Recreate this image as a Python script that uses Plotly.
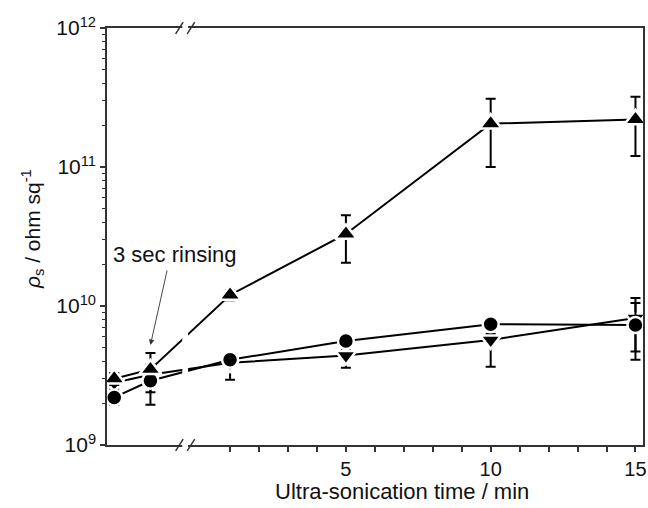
import plotly.graph_objects as go

# ---------------- data ----------------
pre_labels = ["initial", "3 sec rinsing"]          # before ultra-sonication
sonication_min = [1, 5, 10, 15]                     # ultra-sonication time / min

up_vals = [3.0e9, 3.5e9, 1.2e10, 3.3e10, 2.05e11, 2.2e11]
up_err_plus = [0.3e9, 1.1e9, 0.1e10, 1.2e10, 1.05e11, 1.0e11]
up_err_minus = [0.3e9, 0.4e9, 0.1e10, 1.25e10, 1.05e11, 1.0e11]

circle_vals = [2.2e9, 2.9e9, 4.1e9, 5.6e9, 7.4e9, 7.3e9]
circle_err_plus = [0.2e9, 0.6e9, 0.4e9, 0.3e9, 0.6e9, 3.2e9]
circle_err_minus = [0.25e9, 0.95e9, 0.4e9, 0.3e9, 0.6e9, 3.2e9]

down_vals = [2.8e9, 3.2e9, 3.9e9, 4.4e9, 5.7e9, 8.2e9]
down_err_plus = [0.3e9, 0.6e9, 0.5e9, 0.4e9, 0.6e9, 3.2e9]
down_err_minus = [0.3e9, 0.8e9, 0.95e9, 0.8e9, 2.05e9, 3.5e9]

x_tick_labels = ["5", "10", "15"]
y_tick_labels = ["10<sup>9</sup>", "10<sup>10</sup>", "10<sup>11</sup>", "10<sup>12</sup>"]
x_title = "Ultra-sonication time / min"
y_title = "<i>ρ</i><sub>s</sub> / ohm sq<sup>-1</sup>"

# ---------------- layout constants (broken x axis) ----------------
PRE_X = [-3.0, -1.75]          # axis positions of the pre-sonication stages
X_RANGE = [-3.25, 15.26]
BREAK_X = -0.55                # centre of the axis break
x_all = PRE_X + sonication_min

FONT = "Liberation Sans, Arial, sans-serif"


def series(vals, ep, em, symbol, size):
    return go.Scatter(
        x=x_all, y=vals, mode="lines+markers",
        line=dict(color="black", width=2),
        marker=dict(symbol=symbol, size=size, color="black",
                    line=dict(color="white", width=2.5)),
        error_y=dict(type="data", array=ep, arrayminus=em, symmetric=False,
                     color="black", thickness=2, width=5),
        showlegend=False, cliponaxis=False,
    )


fig = go.Figure()
fig.add_trace(series(down_vals, down_err_plus, down_err_minus, "triangle-down", 18))
fig.add_trace(series(circle_vals, circle_err_plus, circle_err_minus, "circle", 16))
fig.add_trace(series(up_vals, up_err_plus, up_err_minus, "triangle-up", 19))

ytick_vals = [1e9, 1e10, 1e11, 1e12]
minor_vals = [m * d for d in (1e9, 1e10, 1e11) for m in range(2, 10)]

fig.update_layout(
    width=648, height=508,
    margin=dict(l=107, r=5, t=28, b=63, autoexpand=False),
    paper_bgcolor="white", plot_bgcolor="white",
    font=dict(family=FONT, color="#111"),
    xaxis=dict(
        range=X_RANGE, showgrid=False, zeroline=False, automargin=False,
        showline=True, linecolor="#333", linewidth=1.5, mirror=True,
        tickmode="array", tickvals=list(range(1, 16)),
        ticktext=[(str(i) if str(i) in x_tick_labels else "") for i in range(1, 16)],
        ticks="outside", ticklen=5, tickwidth=1.5, tickcolor="#333",
        tickfont=dict(size=20, family=FONT, color="#111"),
    ),
    yaxis=dict(
        type="log", range=[9, 12], showgrid=False, zeroline=False, automargin=False,
        showline=True, linecolor="#333", linewidth=1.5, mirror=True,
        tickmode="array", tickvals=ytick_vals, ticktext=y_tick_labels,
        ticks="outside", ticklen=5, tickwidth=1.5, tickcolor="#333",
        tickfont=dict(size=21, family=FONT, color="#111"),
        minor=dict(tickmode="array", tickvals=minor_vals, ticks="outside",
                   ticklen=3, tickwidth=1.2, tickcolor="#333", showgrid=False),
    ),
    shapes=[
        # gap of the axis break
        dict(type="rect", xref="x", yref="paper", x0=BREAK_X - 0.1, x1=BREAK_X + 0.1,
             y0=-0.01, y1=1.01, fillcolor="white", line=dict(width=0), layer="above"),
        # break marks, bottom
        dict(type="line", xref="x", yref="paper", x0=BREAK_X - 0.33, x1=BREAK_X - 0.07,
             y0=-0.014, y1=0.014, line=dict(color="#333", width=1.5), layer="above"),
        dict(type="line", xref="x", yref="paper", x0=BREAK_X + 0.07, x1=BREAK_X + 0.33,
             y0=-0.014, y1=0.014, line=dict(color="#333", width=1.5), layer="above"),
        # break marks, top
        dict(type="line", xref="x", yref="paper", x0=BREAK_X - 0.33, x1=BREAK_X - 0.07,
             y0=0.986, y1=1.014, line=dict(color="#333", width=1.5), layer="above"),
        dict(type="line", xref="x", yref="paper", x0=BREAK_X + 0.07, x1=BREAK_X + 0.33,
             y0=0.986, y1=1.014, line=dict(color="#333", width=1.5), layer="above"),
    ],
    annotations=[
        dict(text=pre_labels[1], xref="paper", yref="y", x=0.008, y=10.37,
             xanchor="left", yanchor="middle", showarrow=False,
             font=dict(size=22, family=FONT, color="#111")),
        dict(text="", xref="x", yref="y", x=PRE_X[1], y=9.72,
             ax=17, ay=-76, showarrow=True, arrowhead=2, arrowsize=1.2,
             arrowwidth=0.9, arrowcolor="#333"),
        dict(text=y_title, textangle=-90,
             xref="paper", yref="paper", x=-0.138, y=0.518,
             xanchor="center", yanchor="middle", showarrow=False,
             font=dict(size=21, family=FONT, color="#111")),
        dict(text=x_title, xref="paper", yref="paper", x=0.551, y=-0.112,
             xanchor="center", yanchor="middle", showarrow=False,
             font=dict(size=22, family=FONT, color="#111")),
    ],
)

fig.write_html("out.html", config={"displayModeBar": False},
               post_script="document.body.style.margin='0';document.body.style.padding='0';")
